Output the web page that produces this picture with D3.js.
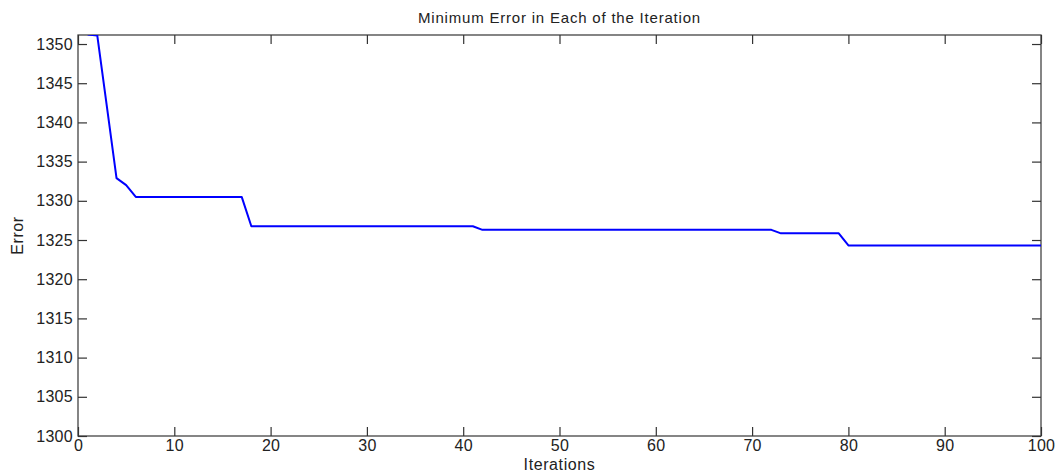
<!DOCTYPE html>
<html>
<head>
<meta charset="utf-8">
<title>Minimum Error in Each of the Iteration</title>
<script src="https://cdn.jsdelivr.net/npm/d3@7"></script>
<style>
  body { margin: 0; background: #fff; }
  text { font-family: "Liberation Sans", Arial, sans-serif; fill: #222; }
</style>
</head>
<body>
<div id="chart"></div>
<script>
// iterations 1..100
const iterations = d3.range(1, 101);
// minimum error per iteration
const minError = [
  1351.2, 1351.1, 1342.0, 1332.9, 1332.0, 1330.5, 1330.5, 1330.5, 1330.5, 1330.5,
  1330.5, 1330.5, 1330.5, 1330.5, 1330.5, 1330.5, 1330.5, 1326.75, 1326.75, 1326.75,
  1326.75, 1326.75, 1326.75, 1326.75, 1326.75, 1326.75, 1326.75, 1326.75, 1326.75, 1326.75,
  1326.75, 1326.75, 1326.75, 1326.75, 1326.75, 1326.75, 1326.75, 1326.75, 1326.75, 1326.75,
  1326.75, 1326.3, 1326.3, 1326.3, 1326.3, 1326.3, 1326.3, 1326.3, 1326.3, 1326.3,
  1326.3, 1326.3, 1326.3, 1326.3, 1326.3, 1326.3, 1326.3, 1326.3, 1326.3, 1326.3,
  1326.3, 1326.3, 1326.3, 1326.3, 1326.3, 1326.3, 1326.3, 1326.3, 1326.3, 1326.3,
  1326.3, 1326.3, 1325.85, 1325.85, 1325.85, 1325.85, 1325.85, 1325.85, 1325.85, 1324.3,
  1324.3, 1324.3, 1324.3, 1324.3, 1324.3, 1324.3, 1324.3, 1324.3, 1324.3, 1324.3,
  1324.3, 1324.3, 1324.3, 1324.3, 1324.3, 1324.3, 1324.3, 1324.3, 1324.3, 1324.3
];
const xTicks = [0, 10, 20, 30, 40, 50, 60, 70, 80, 90, 100];
const yTicks = [1300, 1305, 1310, 1315, 1320, 1325, 1330, 1335, 1340, 1345, 1350];

const W = 1058, H = 473;
const m = { top: 35, right: 17, bottom: 37, left: 78 };
const iw = W - m.left - m.right, ih = H - m.top - m.bottom;

const svg = d3.select('#chart').append('svg')
  .attr('width', W).attr('height', H);

const x = d3.scaleLinear().domain([0, 100]).range([0, iw]);
const y = d3.scaleLinear().domain([1300, 1351.15]).range([ih, 0]);

svg.append('defs').append('clipPath').attr('id', 'clip')
  .append('rect').attr('width', iw).attr('height', ih);

const g = svg.append('g').attr('transform', `translate(${m.left},${m.top})`);

// frame (matlab style box)
g.append('rect').attr('width', iw).attr('height', ih)
  .attr('fill', 'none').attr('stroke', '#444').attr('stroke-width', 1.3);

// ticks point inward on all four sides
const tk = 9;
const styleAxis = sel => {
  sel.select('.domain').remove();
  sel.selectAll('.tick line').attr('stroke', '#333').attr('stroke-width', 1.2);
  sel.selectAll('.tick text').style('font-size', '16px').style('letter-spacing', '0.3px').attr('fill', '#222');
};
g.append('g').attr('transform', `translate(0,${ih})`)
  .call(d3.axisBottom(x).tickValues(xTicks).tickSize(-tk).tickPadding(4).tickFormat(d3.format('d')))
  .call(styleAxis);
g.append('g')
  .call(d3.axisTop(x).tickValues(xTicks).tickSize(-tk).tickFormat(''))
  .call(styleAxis);
g.append('g')
  .call(d3.axisLeft(y).tickValues(yTicks).tickSize(-tk).tickPadding(5).tickFormat(d3.format('d')))
  .call(styleAxis);
g.append('g').attr('transform', `translate(${iw},0)`)
  .call(d3.axisRight(y).tickValues(yTicks).tickSize(-tk).tickFormat(''))
  .call(styleAxis);

// error curve
const line = d3.line()
  .x((d, i) => x(iterations[i]))
  .y(d => y(d));
g.append('path')
  .datum(minError)
  .attr('clip-path', 'url(#clip)')
  .attr('fill', 'none')
  .attr('stroke', '#0000ff')
  .attr('stroke-width', 2)
  .attr('stroke-linejoin', 'round')
  .attr('d', line);

// labels
svg.append('text')
  .attr('x', m.left + iw / 2).attr('y', 23)
  .attr('text-anchor', 'middle').style('font-size', '15px').style('letter-spacing', '0.8px')
  .text('Minimum Error in Each of the Iteration');
svg.append('text')
  .attr('x', m.left + iw / 2).attr('y', 470)
  .attr('text-anchor', 'middle').style('font-size', '16px').style('letter-spacing', '0.6px')
  .text('Iterations');
svg.append('text')
  .attr('transform', `translate(23,${m.top + ih / 2}) rotate(-90)`)
  .attr('text-anchor', 'middle').style('font-size', '16px').style('letter-spacing', '0.6px')
  .text('Error');
</script>
</body>
</html>
